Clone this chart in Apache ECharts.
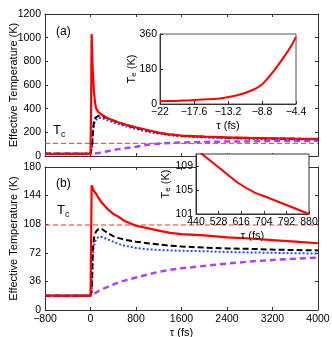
<!DOCTYPE html>
<html>
<head>
<meta charset="utf-8">
<script src="https://cdn.jsdelivr.net/npm/echarts@6/dist/echarts.min.js"></script>
<style>
  html, body { margin: 0; padding: 0; background: #fff; }
  #chart { width: 332px; height: 337px; }
</style>
</head>
<body>
<div id="chart"></div>
<script>
// time grid shared by all main curves (fs)
var tau = [-800, 0, 10, 20, 30, 40, 60, 80, 100, 140, 170, 200, 300, 400, 500, 600, 800, 1000, 1200, 1400, 1600, 2000, 2400, 2800, 3200, 3600, 4000];

// panel (a)
var redA    = [18, 18, 400, 1030, 850, 720, 550, 450, 400, 370, 358, 348, 320, 300, 283, 268, 243, 220, 198, 182, 173, 163, 157, 153, 150, 147, 145];
var blackA  = [18, 18, 18, 30, 100, 200, 290, 320, 332, 340, 340, 337, 318, 300, 282, 266, 238, 215, 196, 181, 172, 162, 155, 151, 148, 145, 143];
var blueA   = [18, 18, 18, 25, 80, 170, 265, 300, 315, 322, 322, 320, 302, 285, 268, 253, 227, 205, 188, 175, 166, 156, 150, 146, 143, 140, 138];
var purpleA = [18, 18, 18, 18, 18, 19, 20, 21, 22, 25, 27, 30, 40, 50, 58, 65, 79, 95, 104, 110, 114, 119, 122, 124, 126, 127, 128];

// panel (b)
var redB    = [18, 18, 80, 157, 155, 153, 150, 148, 146, 141, 138, 135, 127, 121, 117, 112, 106, 103, 100, 97, 95.5, 94, 91.5, 90, 88, 86, 84];
var blackB  = [18, 18, 18, 25, 45, 75, 90, 96, 99, 102, 102.5, 102, 97, 93, 90.5, 88.5, 86, 84, 82.5, 81, 80, 78.5, 77.5, 77, 76, 75.5, 75];
var blueB   = [18, 18, 18, 22, 40, 65, 80, 86, 89, 92, 92.5, 92, 89, 86, 83, 81, 78, 76.5, 75.5, 75, 74.5, 74, 73, 72.5, 72, 71.5, 71];
var purpleB = [18, 18, 18, 18, 18, 19, 20, 21, 22, 24, 25, 26, 29, 32, 35, 37, 41, 44.5, 48, 50.5, 52.5, 55.5, 58.5, 61, 63, 64.5, 66];

// critical temperature, drawn across the full time range
var Tc = 107;
var tcSpan = [-800, 4000];

// inset (a)
var insetAT = [-22, -20, -18, -16, -14, -12, -10, -8.8, -8, -7, -6, -5, -4.4];
var insetAV = [14, 16, 19, 24, 30, 45, 72, 100, 135, 185, 240, 300, 345];
var arrowA = [[-13.3, 170], [-9.15, 118]];

// inset (b)
var insetBT = [440, 480, 533, 600, 667, 704, 792, 880];
var insetBV = [111.9, 110.4, 108.6, 106.3, 104.6, 104.0, 102.5, 101];
var arrowB = [[774, 107.3], [670, 104.7]];

function pairs(xs, ys) {
  return xs.map(function (x, i) { return [x, ys[i]]; });
}
function minus(v) {
  var n = +(+v).toFixed(1);
  return (n < 0 ? '\u2212' : '') + Math.abs(n);
}

var font = 'Liberation Sans, Arial, sans-serif';
var axisCol = '#333';
var lblStyle = { color: '#000', fontSize: 10.5, fontFamily: font };

function mainX(grid, showLabels) {
  return {
    type: 'value', gridIndex: grid, min: -800, max: 4000, interval: 800,
    axisLine: { onZero: false, lineStyle: { color: axisCol } },
    axisTick: { inside: true, length: 3, lineStyle: { color: axisCol } },
    axisLabel: showLabels ? Object.assign({ formatter: minus, margin: 4 }, lblStyle) : { show: false },
    splitLine: { show: false },
    name: showLabels ? '\u03c4 (fs)' : '', nameLocation: 'middle', nameGap: 17, nameMoveOverlap: false,
    nameTextStyle: { color: '#000', fontSize: 11, fontFamily: font }
  };
}
function mirrorX(grid) {
  return {
    type: 'value', gridIndex: grid, position: 'top', min: -800, max: 4000, interval: 800,
    axisLine: { onZero: false, lineStyle: { color: axisCol } },
    axisTick: { inside: true, length: 3, lineStyle: { color: axisCol } },
    axisLabel: { show: false }, splitLine: { show: false }
  };
}
function mainY(grid, max, interval) {
  return {
    type: 'value', gridIndex: grid, min: 0, max: max, interval: interval,
    axisLine: { show: true, onZero: false, lineStyle: { color: axisCol } },
    axisTick: { show: true, inside: true, length: 3, lineStyle: { color: axisCol } },
    axisLabel: Object.assign({ margin: 4, formatter: minus }, lblStyle),
    splitLine: { show: false },
    name: 'Effective Temperature (K)', nameLocation: 'middle', nameGap: 26, nameMoveOverlap: false,
    nameTextStyle: { color: '#000', fontSize: 11, fontFamily: font }
  };
}
function mirrorY(grid, max, interval) {
  return {
    type: 'value', gridIndex: grid, position: 'right', min: 0, max: max, interval: interval,
    axisLine: { show: true, onZero: false, lineStyle: { color: axisCol } },
    axisTick: { show: true, inside: true, length: 3, lineStyle: { color: axisCol } },
    axisLabel: { show: false }, splitLine: { show: false }
  };
}

function curve(name, xi, yi, data, color, width, type, extra) {
  return Object.assign({
    name: name, type: 'line', xAxisIndex: xi, yAxisIndex: yi,
    data: data, showSymbol: false, symbol: 'none',
    lineStyle: { color: color, width: width, type: type },
    emphasis: { disabled: true },
    z: 3
  }, extra || {});
}
function tcSeries(name, xi, yi) {
  return curve(name, xi, yi, pairs(tcSpan, [Tc, Tc]), '#ff3030', 1, [5, 3], { z: 2 });
}
function arrowLine(pts) {
  return {
    silent: true, symbol: ['none', 'arrow'], symbolSize: 7, label: { show: false },
    lineStyle: { color: '#3050ff', width: 1, type: 'solid' },
    data: [[{ coord: pts[0] }, { coord: pts[1] }]]
  };
}

var nestedName = {
  color: '#000', fontSize: 11, fontFamily: font,
  rich: { t: { fontSize: 11, fontFamily: font }, s: { fontSize: 8, fontFamily: font, verticalAlign: 'bottom', padding: [4, 0, 0, 0] } }
};

var chart = echarts.init(document.getElementById('chart'), null, { renderer: 'canvas' });
var option = {
  animation: false,
  backgroundColor: '#fff',
  grid: [
    { left: 45, top: 14, width: 273, height: 142, outerBoundsMode: 'none', containLabel: false },
    { left: 45, top: 167, width: 273, height: 143, outerBoundsMode: 'none', containLabel: false },
    { left: 160, top: 34, width: 136, height: 70, outerBoundsMode: 'none', containLabel: false, show: true, backgroundColor: '#fff', borderColor: '#555', borderWidth: 1, z: 10 },
    { left: 196, top: 154, width: 113, height: 60, outerBoundsMode: 'none', containLabel: false, show: true, backgroundColor: '#fff', borderColor: '#333', borderWidth: 1, z: 10 }
  ],
  xAxis: [
    mainX(0, false), mirrorX(0), mainX(1, true), mirrorX(1),
    {
      type: 'value', gridIndex: 2, min: -22, max: -4.4, interval: 4.4, z: 11,
      axisLine: { onZero: false, lineStyle: { color: axisCol } },
      axisTick: { inside: true, length: 3, lineStyle: { color: axisCol } },
      axisLabel: Object.assign({ formatter: minus, margin: 3 }, lblStyle),
      splitLine: { show: false },
      name: '\u03c4 (fs)', nameLocation: 'middle', nameGap: 16, nameMoveOverlap: false,
      nameTextStyle: { color: '#000', fontSize: 11, fontFamily: font }
    },
    {
      type: 'value', gridIndex: 3, min: 440, max: 880, interval: 88, z: 11,
      axisLine: { onZero: false, lineStyle: { color: axisCol } },
      axisTick: { inside: true, length: 3, lineStyle: { color: axisCol } },
      axisLabel: Object.assign({ margin: 3 }, lblStyle),
      splitLine: { show: false },
      name: '\u03c4 (fs)', nameLocation: 'middle', nameGap: 16, nameMoveOverlap: false,
      nameTextStyle: { color: '#000', fontSize: 11, fontFamily: font }
    }
  ],
  yAxis: [
    mainY(0, 1200, 200), mirrorY(0, 1200, 200), mainY(1, 180, 36), mirrorY(1, 180, 36),
    {
      type: 'value', gridIndex: 2, min: 0, max: 360, interval: 180, z: 11,
      axisLine: { show: true, onZero: false, lineStyle: { color: axisCol } },
      axisTick: { show: true, inside: true, length: 3, lineStyle: { color: axisCol } },
      axisLabel: Object.assign({ margin: 3 }, lblStyle),
      splitLine: { show: false },
      name: '{t|T}{s|e} (K)', nameLocation: 'middle', nameGap: 22, nameMoveOverlap: false,
      nameTextStyle: nestedName
    },
    {
      type: 'value', gridIndex: 3, min: 101, max: 111, interval: 4, z: 11,
      axisLine: { show: true, onZero: false, lineStyle: { color: axisCol } },
      axisTick: { show: true, inside: true, length: 3, lineStyle: { color: axisCol } },
      axisLabel: Object.assign({ margin: 3, showMaxLabel: false }, lblStyle),
      splitLine: { show: false },
      name: '{t|T}{s|e} (K)', nameLocation: 'middle', nameGap: 24, nameMoveOverlap: false,
      nameTextStyle: nestedName
    }
  ],
  series: [
    tcSeries('TcA', 0, 0),
    curve('purpleA', 0, 0, pairs(tau, purpleA), '#b040f0', 2.5, [6, 4]),
    curve('blueA', 0, 0, pairs(tau, blueA), '#2848ff', 2, [2, 2]),
    curve('blackA', 0, 0, pairs(tau, blackA), '#000', 2, [6, 3]),
    curve('redA', 0, 0, pairs(tau, redA), '#ff0000', 2.2, 'solid'),
    tcSeries('TcB', 2, 2),
    curve('purpleB', 2, 2, pairs(tau, purpleB), '#b040f0', 2.5, [6, 4]),
    curve('blueB', 2, 2, pairs(tau, blueB), '#2848ff', 2, [2, 2]),
    curve('blackB', 2, 2, pairs(tau, blackB), '#000', 2, [6, 3]),
    curve('redB', 2, 2, pairs(tau, redB), '#ff0000', 2.2, 'solid'),
    curve('insetA', 4, 4, pairs(insetAT, insetAV), '#ff0000', 2, 'solid', { smooth: 0.2, z: 12, markLine: arrowLine(arrowA) }),
    curve('insetB', 5, 5, pairs(insetBT, insetBV), '#ff0000', 2, 'solid', { smooth: 0.2, z: 12, markLine: arrowLine(arrowB) })
  ],
  graphic: [
    { type: 'text', left: 56, top: 26, z: 20, style: { text: '(a)', font: '12px ' + font, fill: '#000' } },
    { type: 'text', left: 56, top: 178, z: 20, style: { text: '(b)', font: '12px ' + font, fill: '#000' } },
    { type: 'text', left: 53, top: 124, z: 20, style: { text: '{t|T}{s|c}', rich: { t: { font: '13px ' + font, fill: '#000' }, s: { font: '9px ' + font, fill: '#000', padding: [8, 0, 0, 0] } } } },
    { type: 'text', left: 57, top: 204, z: 20, style: { text: '{t|T}{s|c}', rich: { t: { font: '13px ' + font, fill: '#000' }, s: { font: '9px ' + font, fill: '#000', padding: [8, 0, 0, 0] } } } }
  ]
};
chart.setOption(option);
</script>
</body>
</html>
